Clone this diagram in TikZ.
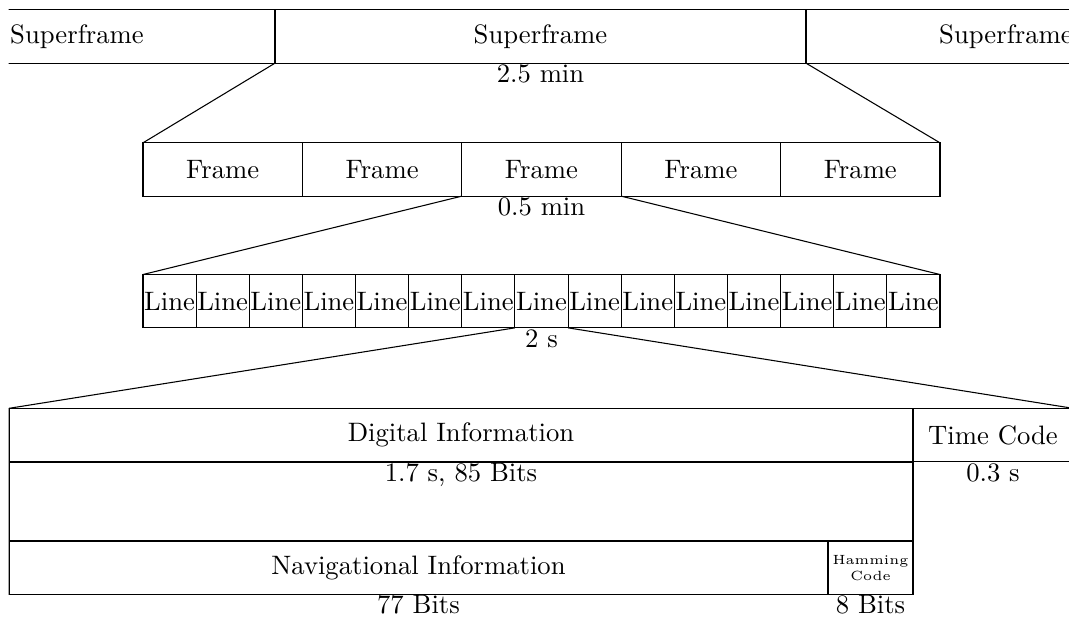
\documentclass[tikz,border=0pt]{standalone}
\usetikzlibrary{calc}
\tikzset{
  bx/.style={draw, rectangle, inner sep=0pt, outer sep=0pt, minimum height=20pt, minimum width=#1*0.375pt},
  lab/.style={anchor=base, inner sep=0pt},
  conn/.style={draw, line width=0.4pt}
}
\begin{document}
\begin{tikzpicture}[x=0.375pt,y=-0.375pt]
\useasboundingbox (0,0) rectangle (1069,621);
\begin{scope}
\clip (8.6,-5) rectangle (1069,630);
% superframes
\node[bx=396] (sfL) at (77,36.5) {Superframe};
\node[bx=531] (sfM) at (540.5,36.5) {Superframe};
\node[bx=400] (sfR) at (1006,36.5) {Superframe};
\node[lab] (t25) at ([yshift=-7.2pt]sfM.south) {2.5 min};
% frames
\foreach \i in {1,...,5} {
  \node[bx=159.4] (f\i) at ({143+79.7+159.4*(\i-1)},169.5) {Frame};
}
\node[lab] (t05) at ([yshift=-7.2pt]f3.south) {0.5 min};
% lines
\foreach \i in {1,...,15} {
  \node[bx=53.133] (l\i) at ({143+26.567+53.133*(\i-1)},301.2) {Line};
}
\node[lab] (t2) at ([yshift=-7.2pt]l8.south) {2 s};
% bottom
\node[bx=904] (dig) at (461,435) {Digital Information};
\node[bx=160] (tc) at (993,435) {Time Code};
\node[bx=904, minimum height=29.25pt] (gap) at (461,501.5) {};
\node[lab] (t17) at ([yshift=-7.6pt]dig.south) {1.7 s, 85 Bits};
\node[lab] (t03) at ([yshift=-7.6pt]tc.south) {0.3 s};
\node[bx=819] (nav) at (418.5,567.8) {Navigational Information};
\node[bx=85, align=center, font=\tiny] (ham) at (870.5,567.8) {Hamming\\Code};
\node[lab] (t77) at ([yshift=-7.3pt]nav.south) {77 Bits};
\node[lab] (t8) at ([yshift=-7.3pt]ham.south) {8 Bits};
% connectors
\draw[conn] (sfM.south west) -- (f1.north west);
\draw[conn] (sfM.south east) -- (f5.north east);
\draw[conn] (f3.south west) -- (l1.north west);
\draw[conn] (f3.south east) -- (l15.north east);
\draw[conn] (l8.south west) -- (dig.north west);
\draw[conn] (l8.south east) -- (tc.north east);
\end{scope}
\end{tikzpicture}
\end{document}
